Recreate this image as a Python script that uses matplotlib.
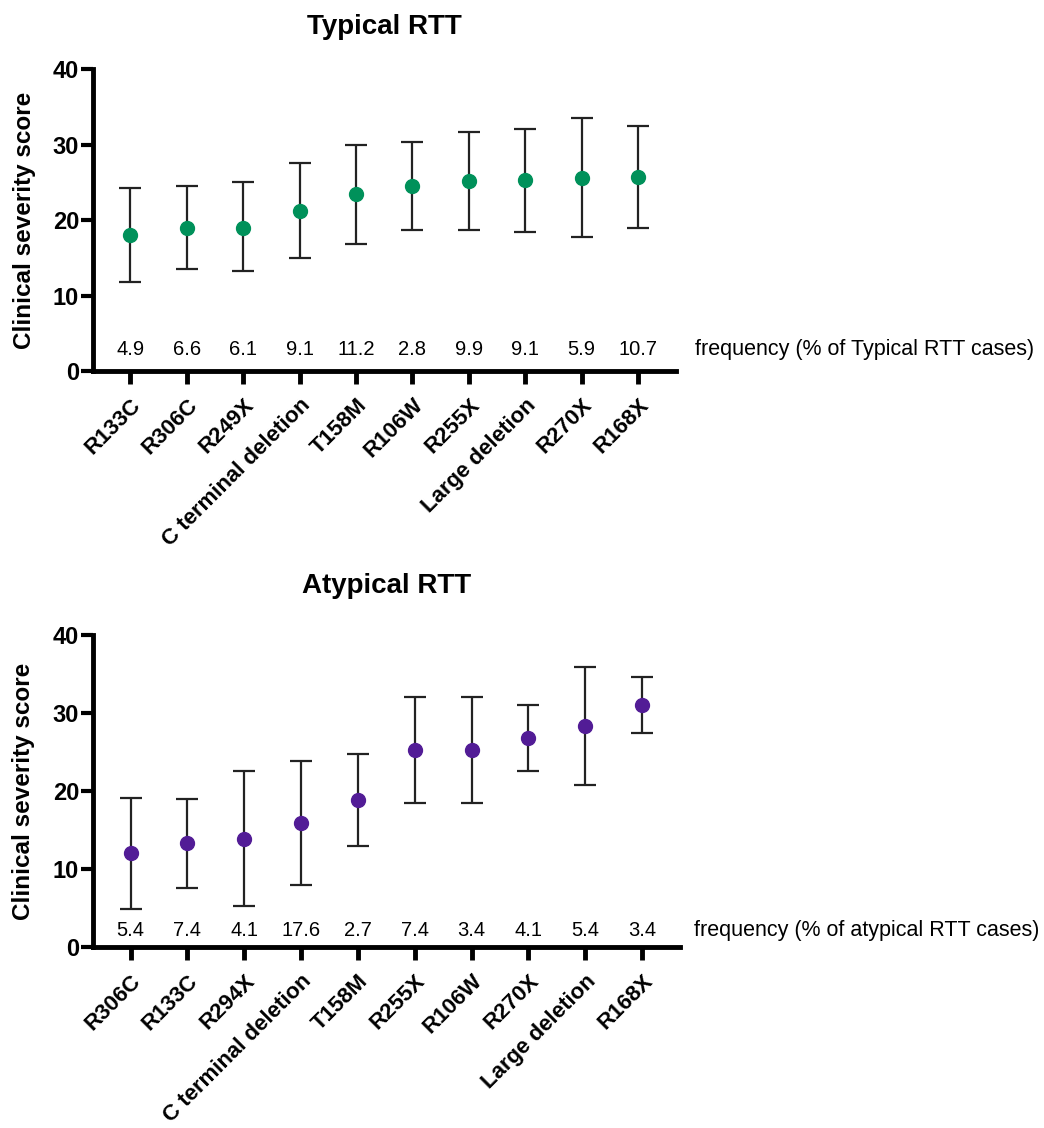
import numpy as np
import matplotlib.pyplot as plt

plt.rcParams['font.family'] = ['Liberation Sans', 'DejaVu Sans']

# Typical RTT
typ_labels = ['R133C', 'R306C', 'R249X', 'C terminal deletion', 'T158M',
              'R106W', 'R255X', 'Large deletion', 'R270X', 'R168X']
typ_mean = [18.0, 18.9, 19.0, 21.2, 23.4, 24.5, 25.2, 25.3, 25.6, 25.7]
typ_upper = [24.2, 24.5, 25.0, 27.5, 30.0, 30.3, 31.7, 32.0, 33.5, 32.4]
typ_lower = [11.8, 13.5, 13.2, 15.0, 16.8, 18.7, 18.7, 18.4, 17.7, 18.9]
typ_freq = ['4.9', '6.6', '6.1', '9.1', '11.2', '2.8', '9.9', '9.1', '5.9', '10.7']

# Atypical RTT
atyp_labels = ['R306C', 'R133C', 'R294X', 'C terminal deletion', 'T158M',
               'R255X', 'R106W', 'R270X', 'Large deletion', 'R168X']
atyp_mean = [12.0, 13.3, 13.9, 15.9, 18.8, 25.2, 25.3, 26.8, 28.3, 31.0]
atyp_upper = [19.1, 19.0, 22.6, 23.9, 24.8, 32.0, 32.1, 31.0, 35.9, 34.6]
atyp_lower = [4.9, 7.6, 5.3, 7.9, 12.9, 18.4, 18.5, 22.6, 20.7, 27.4]
atyp_freq = ['5.4', '7.4', '4.1', '17.6', '2.7', '7.4', '3.4', '4.1', '5.4', '3.4']


def draw_panel(ax, title, labels, mean, upper, lower, freq, color, freq_y, note, tpad, note_x):
    x = np.arange(len(labels))
    mean = np.array(mean)
    yerr = [mean - np.array(lower), np.array(upper) - mean]
    ax.errorbar(x, mean, yerr=yerr, fmt='o', color=color, markersize=10,
                ecolor='#222222', elinewidth=1.6, capsize=8, capthick=1.6, zorder=3)
    for xi, f in zip(x, freq):
        ax.text(xi, freq_y, f, ha='center', va='center', fontsize=14.5)
    ax.text(note_x, freq_y / 40, note, transform=ax.transAxes, ha='left',
            va='center', fontsize=15.5)
    ax.set_xlim(-0.66, len(labels) - 0.33)
    ax.set_ylim(0, 40)
    ax.set_yticks([0, 10, 20, 30, 40])
    ax.set_xticks(x)
    ax.set_xticklabels(labels, rotation=45, ha='right', rotation_mode='anchor',
                       fontsize=16, fontweight='bold')
    for t in ax.get_yticklabels():
        t.set_fontweight('bold')
        t.set_fontsize(17)
    ax.spines['top'].set_visible(False)
    ax.spines['right'].set_visible(False)
    ax.spines['left'].set_linewidth(3.5)
    ax.spines['bottom'].set_linewidth(3.5)
    ax.tick_params(axis='y', length=9, width=3, pad=1)
    ax.tick_params(axis='x', length=9, width=3.5, pad=8)
    ax.set_ylabel('Clinical severity score', fontsize=17.5, fontweight='bold')
    ax.yaxis.set_label_coords(-0.098, 0.5)
    ax.set_title(title, fontsize=20, fontweight='bold', pad=tpad)


fig = plt.figure(figsize=(10.44, 11.28), dpi=100)
ax1 = fig.add_axes([0.0891, 0.6711, 0.5584, 0.2677])
ax2 = fig.add_axes([0.0891, 0.1605, 0.5623, 0.2766])

draw_panel(ax1, 'Typical RTT', typ_labels, typ_mean, typ_upper, typ_lower,
           typ_freq, '#00915a', 2.9, 'frequency (% of Typical RTT cases)', 25, 1.032)
draw_panel(ax2, 'Atypical RTT', atyp_labels, atyp_mean, atyp_upper, atyp_lower,
           atyp_freq, '#521c96', 2.1, 'frequency (% of atypical RTT cases)', 30, 1.024)

fig.savefig('out.png', dpi=100)
